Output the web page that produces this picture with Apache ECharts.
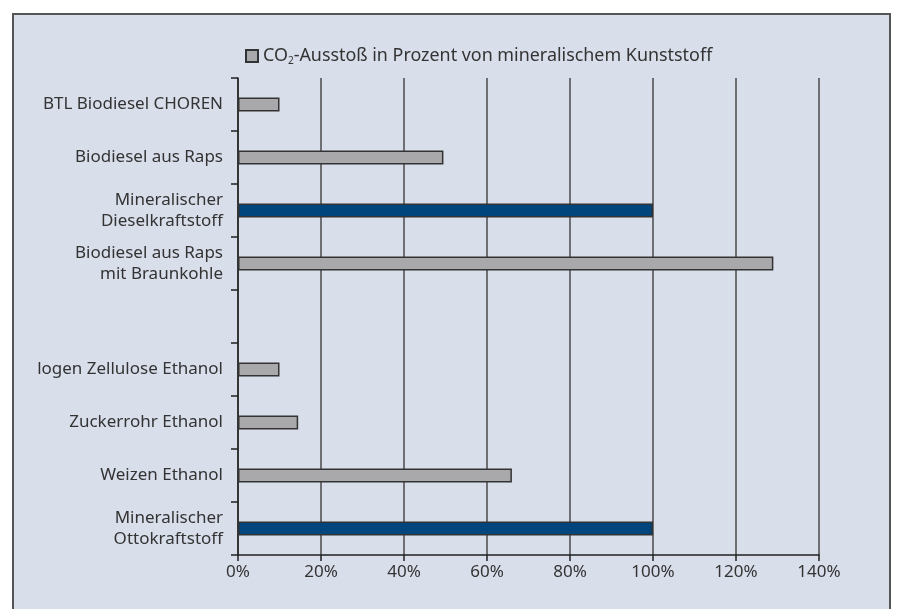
<!DOCTYPE html>
<html>
<head>
    <meta charset="utf-8">
    <title>CO2-Ausstoss</title>
    <script src="https://cdn.jsdelivr.net/npm/echarts@6/dist/echarts.min.js"></script>
    <style>
        body { margin: 0; background: #fff; }
    </style>
</head>
<body>

<div id="co2Chart" style="width: 898px;height:609px;"></div>

<script type="text/javascript">
    var categories = [
        'BTL Biodiesel CHOREN',
        'Biodiesel aus Raps',
        'Mineralischer\nDieselkraftstoff',
        'Biodiesel aus Raps\nmit Braunkohle',
        '',
        'logen Zellulose Ethanol',
        'Zuckerrohr Ethanol',
        'Weizen Ethanol',
        'Mineralischer\nOttokraftstoff'
    ];
    var values = [10, 49.5, 100, 129, null, 10, 14.5, 66, 100];
    var highlighted = [false, false, true, false, false, false, false, false, true];
    var xTicks = [0, 20, 40, 60, 80, 100, 120, 140];

    var font = 'Noto Sans';
    var chart = echarts.init(document.getElementById('co2Chart'));

    var barData = [];
    for (var i = 0; i < values.length; i++) {
        if (highlighted[i]) {
            barData.push({ value: values[i], itemStyle: { color: '#00457c' } });
        } else {
            barData.push(values[i]);
        }
    }

    chart.setOption({
        animation: false,
        graphic: [{
            type: 'rect',
            shape: { x: 13, y: 14, width: 877, height: 620 },
            style: { fill: '#d9deeb', stroke: '#555', lineWidth: 2 },
            z: -10
        }],
        legend: {
            left: 240,
            top: 42,
            icon: 'rect',
            itemWidth: 12,
            itemHeight: 12,
            itemGap: 11,
            formatter: function () {
                return '{a|CO}{s|2}{a|-Ausstoß in Prozent von mineralischem Kunststoff}';
            },
            textStyle: {
                rich: {
                    a: { fontFamily: font, fontSize: 17.9, color: '#333' },
                    s: { fontFamily: font, fontSize: 10, color: '#333', verticalAlign: 'bottom', padding: [10, 0, 0, 0] }
                }
            }
        },
        grid: {
            left: 238,
            right: 79,
            top: 78,
            bottom: 54
        },
        xAxis: {
            type: 'value',
            min: 0,
            max: 140,
            interval: 20,
            axisLine: { show: true, lineStyle: { color: '#222', width: 1.5 } },
            axisTick: { show: true, length: 6, lineStyle: { color: '#222', width: 1.5 } },
            axisLabel: {
                fontFamily: font,
                fontSize: 17,
                color: '#333',
                margin: 9,
                formatter: function (v) { return xTicks.indexOf(v) >= 0 ? v + '%' : ''; }
            },
            splitLine: { show: true, lineStyle: { color: '#4a4a4a', width: 1.5 } }
        },
        yAxis: {
            type: 'category',
            inverse: true,
            data: categories,
            axisLine: { show: true, lineStyle: { color: '#222', width: 1.5 } },
            axisTick: { show: true, length: 7, lineStyle: { color: '#222', width: 1.5 } },
            axisLabel: {
                fontFamily: font,
                fontSize: 17,
                lineHeight: 21,
                color: '#333',
                margin: 15,
                align: 'right'
            }
        },
        series: [{
            name: 'CO2',
            type: 'bar',
            data: barData,
            barWidth: 14,
            itemStyle: {
                color: '#a9a9ab',
                borderColor: '#333',
                borderWidth: 1.5
            }
        }]
    });
</script>
</body>
</html>
